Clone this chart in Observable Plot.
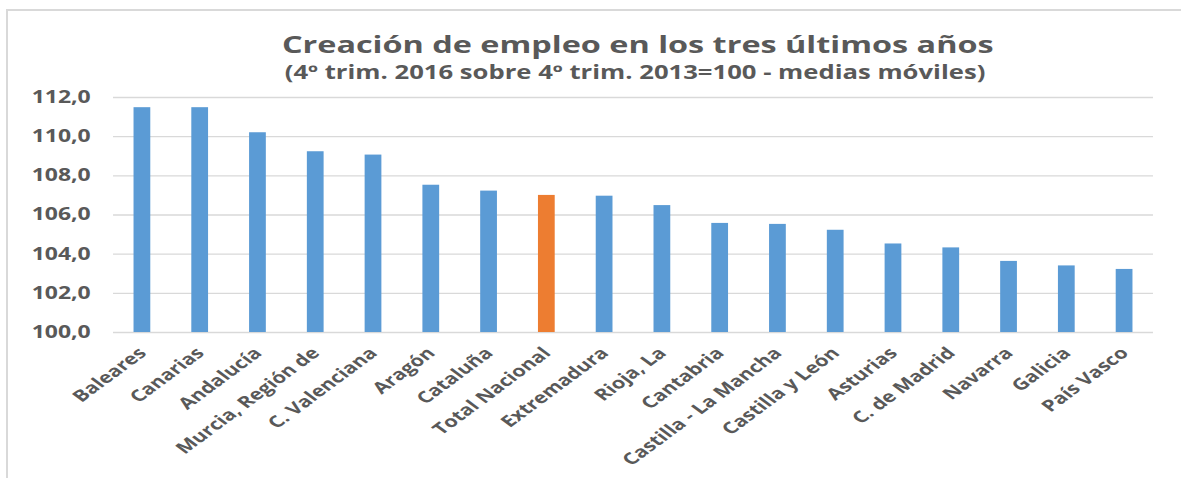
<!DOCTYPE html>
<html><head><meta charset="utf-8">
<script src="https://cdn.jsdelivr.net/npm/d3@7"></script>
<script src="https://cdn.jsdelivr.net/npm/@observablehq/plot@0.6"></script>
<style>
html,body{margin:0;padding:0;background:#fff;}
#page{position:relative;width:1181px;height:478px;overflow:hidden;background:#fff;}
#frame{position:absolute;left:6px;top:9px;width:1200px;height:480px;border-left:2px solid #d9d9d9;border-top:2px solid #d9d9d9;}
#wrap{position:absolute;left:0;top:0;transform-origin:0 0;}
.t{position:absolute;left:0;text-align:center;color:#595959;font-family:"Open Sans",sans-serif;font-weight:700;white-space:nowrap;line-height:1;box-sizing:border-box;}
#chart{position:absolute;left:0;top:88px;}
</style></head><body>
<div id="page"><div id="frame"></div>
<div id="wrap">
<div class="t" id="title"></div>
<div class="t" id="sub"></div>
<div id="chart"></div>
</div></div>
<script>
const regions = ["Baleares","Canarias","Andalucía","Murcia, Región de","C. Valenciana","Aragón","Cataluña","Total Nacional","Extremadura","Rioja, La","Cantabria","Castilla - La Mancha","Castilla y León","Asturias","C. de Madrid","Navarra","Galicia","País Vasco"];
const values = [111.48,111.48,110.2,109.23,109.06,107.52,107.22,107.0,106.96,106.48,105.57,105.52,105.22,104.52,104.32,103.63,103.4,103.22];
const highlight = "Total Nacional";
const yTicks = [100,102,104,106,108,110,112];
const titleText = "Creación de empleo en los tres últimos años";
const subtitleText = "(4º trim. 2016 sobre 4º trim. 2013=100 - medias móviles)";

const S = 1.35;
const W = 1181 / S;
const wrap = document.getElementById("wrap");
wrap.style.width = W + "px";
wrap.style.height = "478px";
wrap.style.transform = `scaleX(${S})`;

const title = document.getElementById("title");
title.textContent = titleText;
Object.assign(title.style, {width: W + "px", top: "32px", fontSize: "24px", paddingLeft: "70px"});
const sub = document.getElementById("sub");
sub.textContent = subtitleText;
Object.assign(sub.style, {width: W + "px", top: "63px", fontSize: "19px", paddingLeft: "66px"});

const data = regions.map((r, i) => ({region: r, value: values[i]}));
const chart = Plot.plot({
  width: W, height: 390,
  marginTop: 9, marginBottom: 146, marginLeft: 113 / S, marginRight: 28 / S,
  style: {fontFamily: "'Open Sans', sans-serif", color: "#595959", background: "transparent", overflow: "visible"},
  x: {domain: regions, paddingInner: 0.71, paddingOuter: 0.355, round: false, axis: null},
  y: {domain: [100, 112], axis: null},
  color: {type: "identity"},
  marks: [
    Plot.ruleY(yTicks, {stroke: "#d9d9d9", strokeWidth: 1.3}),
    Plot.barY(data, {x: "region", y1: 100, y2: "value", fill: d => d.region === highlight ? "#ED7D31" : "#5B9BD5"}),
    Plot.axisY({ticks: yTicks, tickSize: 0, tickPadding: 17, tickFormat: d => d.toFixed(1).replace(".", ","), fontSize: 17, fontWeight: 700, label: null}),
    Plot.axisX({tickRotate: -45, tickSize: 0, tickPadding: 18, fontSize: 16, fontWeight: 700, label: null})
  ]
});
document.getElementById("chart").appendChild(chart);
</script>
</body></html>
